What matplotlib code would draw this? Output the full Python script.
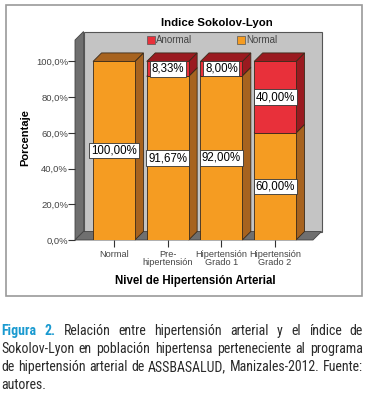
import matplotlib
matplotlib.use("Agg")
import matplotlib.pyplot as plt
from matplotlib.patches import Polygon, Rectangle
from matplotlib import font_manager

# datos
categorias = ["Normal", "Pre-\nhipertensión", "Hipertensión\nGrado 1", "Hipertensión\nGrado 2"]
normal = [100.00, 91.67, 92.00, 60.00]
anormal = [0.00, 8.33, 8.00, 40.00]
yticks = [0, 20, 40, 60, 80, 100]
ytick_labels = ["0,0%", "20,0%", "40,0%", "60,0%", "80,0%", "100,0%"]

W, H = 377, 405
plt.rcParams['font.family'] = ['Liberation Sans', 'DejaVu Sans']

# fuente estrecha para el pie, si hay alguna instalada
pie_fuente = dict(family='Liberation Sans')
for f in font_manager.fontManager.ttflist:
    nombre = f.fname.lower()
    if 'narrow' in nombre or 'condensed' in nombre:
        if f.style == 'normal' and f.weight in (400, 'normal', 'regular'):
            pie_fuente = dict(family=f.name, stretch=f.stretch)
            if 'liberation' in nombre:
                break

def fx(px):
    return px / W

def fy(py):
    return 1 - py / H

fig = plt.figure(figsize=(W / 100, H / 100), dpi=100)

# recuadro del grafico
fig.patches.append(Rectangle((fx(6), fy(296)), fx(362) - fx(6), fy(5) - fy(296),
                             transform=fig.transFigure, fill=False, edgecolor='#9a9a9a', lw=1.2))

# ejes = plano frontal
ax = fig.add_axes([fx(75), fy(240), fx(313) - fx(75), fy(40) - fy(240)])
xmin, xmax = -0.726, 3.706
ymax = 112
ax.set_xlim(xmin, xmax)
ax.set_ylim(0, ymax)
for s in ax.spines.values():
    s.set_visible(False)
ax.patch.set_visible(False)

# profundidad 3D en unidades de datos
ddx = 8.5 / (238 / (xmax - xmin))
ddy = 8.5 / (200 / ymax)

pared = '#6f6f6f'
# pared trasera
ax.add_patch(Rectangle((xmin + ddx, ddy), xmax - xmin, ymax, facecolor='#c4c4c4',
                       edgecolor='#555555', lw=0.8, clip_on=False, zorder=0))
# pared izquierda
ax.add_patch(Polygon([(xmin, 0), (xmin, ymax), (xmin + ddx, ymax + ddy), (xmin + ddx, ddy)],
                     facecolor=pared, edgecolor='#444444', lw=0.6, clip_on=False, zorder=1))
# piso
ax.add_patch(Polygon([(xmin, 0), (xmax, 0), (xmax + ddx, ddy), (xmin + ddx, ddy)],
                     facecolor=pared, edgecolor='#444444', lw=0.6, clip_on=False, zorder=1))

ancho = 0.78
naranja, naranja_lado = '#f59c22', '#a7631f'
rojo, rojo_lado = '#e8303a', '#9a1a20'

def barra3d(x, y0, y1, cara, lado):
    b0, b1 = x - ancho / 2, x + ancho / 2
    ax.add_patch(Polygon([(b1, y0), (b1 + ddx, y0 + ddy), (b1 + ddx, y1 + ddy), (b1, y1)],
                         facecolor=lado, edgecolor='#3a2a1a', lw=0.6, clip_on=False, zorder=2))
    ax.add_patch(Polygon([(b0, y1), (b1, y1), (b1 + ddx, y1 + ddy), (b0 + ddx, y1 + ddy)],
                         facecolor=lado, edgecolor='#3a2a1a', lw=0.6, clip_on=False, zorder=2))
    ax.bar(x, y1 - y0, bottom=y0, width=ancho, color=cara, edgecolor='#3a2a1a', lw=0.6, zorder=3)

def etiqueta(x, y, v):
    ax.text(x, y, ("%.2f%%" % v).replace('.', ','), ha='center', va='center', fontsize=8.3,
            color='black', zorder=5,
            bbox=dict(boxstyle='square,pad=0.15', facecolor='white', edgecolor='#333333', lw=0.6))

for i in range(len(categorias)):
    barra3d(i, 0, normal[i], naranja, naranja_lado)
    if anormal[i] > 0:
        barra3d(i, normal[i], normal[i] + anormal[i], rojo, rojo_lado)

for i in range(len(categorias)):
    etiqueta(i, normal[i] / 2, normal[i])
    if anormal[i] > 0:
        etiqueta(i, normal[i] + anormal[i] / 2, anormal[i])

ax.set_yticks(yticks)
ax.set_yticklabels(ytick_labels, fontsize=6.8, color='#444444')
ax.set_xticks(range(len(categorias)))
ax.set_xticklabels(categorias, fontsize=6.6, color='#444444', linespacing=0.95)
ax.tick_params(axis='y', length=5, width=0.8, color='#333333', pad=0)
ax.tick_params(axis='x', length=5, width=0.8, color='#333333', pad=2)

# titulos
fig.text(fx(217), fy(23), "Indice Sokolov-Lyon", ha='center', va='center', fontsize=8.2, fontweight='bold')
fig.text(fx(195), fy(281), "Nivel de Hipertensión Arterial", ha='center', va='center',
         fontsize=8.3, fontweight='bold')
fig.text(fx(25), fy(138), "Porcentaje", ha='center', va='center', rotation=90,
         fontsize=8, fontweight='bold')

# leyenda
for px, col, txt in [(147, rojo, "Anormal"), (237, naranja, "Normal")]:
    fig.patches.append(Rectangle((fx(px), fy(44)), fx(8), fy(36) - fy(44), transform=fig.transFigure,
                                 facecolor=col, edgecolor='#555555', lw=0.5))
    fig.text(fx(px + 9), fy(40), txt, ha='left', va='center', fontsize=7, color='#444444')

# pie de figura justificado
lineas = [
    [("Figura", 'b'), ("2.", 'b'), ("Relación", 'n'), ("entre", 'n'), ("hipertensión", 'n'),
     ("arterial", 'n'), ("y", 'n'), ("el", 'n'), ("índice", 'n'), ("de", 'n')],
    [(w, 'n') for w in "Sokolov-Lyon en población hipertensa perteneciente al programa".split()],
    [(w, 'n') for w in "de hipertensión arterial de ASSBASALUD, Manizales-2012. Fuente:".split()],
    [(w, 'n') for w in "autores.".split()],
]
bases = [335, 353, 371, 389]
x_ini, x_fin = 1, 363
gap_min = 3.5
fig.canvas.draw()
r = fig.canvas.get_renderer()

def estilo(k, fs):
    if k == 'b':
        return dict(fontsize=fs, fontweight='bold', color='#1a9ad0', **pie_fuente)
    return dict(fontsize=fs, color='#2a2a2a', **pie_fuente)

def medir(linea, fs):
    ts = [fig.text(0, 0, w, va='baseline', ha='left', **estilo(k, fs)) for w, k in linea]
    an = [t.get_window_extent(r).width for t in ts]
    return ts, an

# tamano de letra que deja un hueco minimo entre palabras
fs = 11.5
for linea in lineas[:-1]:
    ts, an = medir(linea, 10.0)
    for t in ts:
        t.remove()
    fs = min(fs, 10.0 * (x_fin - x_ini - gap_min * (len(an) - 1)) / sum(an))

for n, linea in enumerate(lineas):
    textos, anchos = medir(linea, fs)
    if n < len(lineas) - 1 and len(textos) > 1:
        hueco = ((x_fin - x_ini) - sum(anchos)) / (len(textos) - 1)
    else:
        hueco = 3.0
    x = x_ini
    for t, a in zip(textos, anchos):
        t.set_position((fx(x), fy(bases[n])))
        x += a + hueco

fig.savefig("out.png", dpi=100)
